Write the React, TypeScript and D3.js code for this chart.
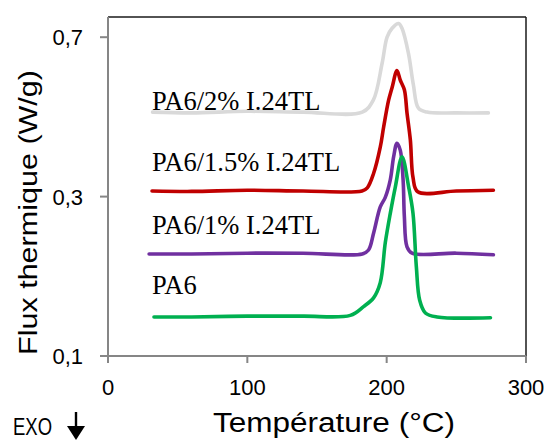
import React from "react";
import * as d3 from "d3";

// ---- data ----
const xTicks = [0, 100, 200, 300];
const yTicks = [0.1, 0.3, 0.7];
const yTickLabels = ["0,1", "0,3", "0,7"];

const seriesNames = ["PA6/2% I.24TL", "PA6/1.5% I.24TL", "PA6/1% I.24TL", "PA6"];
const seriesColors = ["#d9d9d9", "#c00000", "#7030a0", "#00b050"];

const grayT = [32, 60, 100, 140, 182.5, 190.4, 196.7, 200.3, 203.9, 208.6, 211, 215.6, 219.2, 222.8, 229, 250, 273];
const grayV = [0.512, 0.51, 0.514, 0.512, 0.512, 0.542, 0.634, 0.7, 0.722, 0.734, 0.722, 0.66, 0.58, 0.522, 0.512, 0.51, 0.51];

const redT = [31.6, 60, 100, 140, 182.3, 186.1, 190.6, 195.4, 197.8, 201.4, 203.9, 207.4, 209.8, 212.7, 214.6, 217, 218.9, 222.3, 250, 276.6];
const redV = [0.314, 0.313, 0.316, 0.314, 0.314, 0.322, 0.358, 0.424, 0.474, 0.542, 0.574, 0.616, 0.592, 0.568, 0.51, 0.442, 0.348, 0.312, 0.314, 0.316];

const purpleT = [29.5, 60, 100, 140, 182.5, 187, 190.6, 195.4, 199, 202.6, 205, 207.4, 209.8, 211.8, 212.7, 214.6, 218.2, 250, 276.6];
const purpleV = [0.228, 0.228, 0.229, 0.229, 0.228, 0.233, 0.254, 0.287, 0.299, 0.342, 0.4, 0.434, 0.416, 0.342, 0.275, 0.237, 0.229, 0.229, 0.227];

const greenT = [33, 60, 100, 140, 173.9, 183.4, 190.6, 195.4, 199, 202.6, 206.2, 211, 215.8, 218.9, 221.3, 223.7, 227.8, 236.2, 274.5];
const greenV = [0.149, 0.149, 0.15, 0.15, 0.151, 0.162, 0.173, 0.192, 0.242, 0.279, 0.324, 0.4, 0.324, 0.279, 0.212, 0.17, 0.154, 0.149, 0.148];

const seriesT = [grayT, redT, purpleT, greenT];
const seriesV = [grayV, redV, purpleV, greenV];

const labelT = [31.6, 31.6, 31.6, 31.6];
const labelV = [0.517, 0.364, 0.253, 0.178];

// ---- layout ----
const W = 549;
const H = 441;
const left = 108;
const right = 526;
const top = 17;
const bottom = 356;

export default function App() {
  const x = d3.scaleLinear().domain([0, 300]).range([left, right]);
  const y = d3
    .scaleLinear()
    .domain([0.1, 0.3, 0.7, 0.75])
    .range([bottom, bottom - 159.4, bottom - 318.8, top]);

  const line = d3
    .line<[number, number]>()
    .x((d) => x(d[0]))
    .y((d) => y(d[1]))
    .curve(d3.curveCatmullRom.alpha(0.5));

  const axisColor = "#868686";

  return (
    <svg
      width={W}
      height={H}
      style={{ position: "fixed", left: 0, top: 0, background: "#fff" }}
    >
      <rect x={0} y={0} width={W} height={H} fill="#fff" />
      {/* frame top/right */}
      <line x1={left} x2={right} y1={top} y2={top} stroke="#1a1a1a" strokeWidth={1.5} />
      <line x1={right} x2={right} y1={top} y2={bottom} stroke="#1a1a1a" strokeWidth={1.5} />

      {/* series */}
      {seriesT.map((ts, i) => {
        const pts = ts.map((t, j) => [t, seriesV[i][j]] as [number, number]);
        return (
          <path
            key={i}
            d={line(pts) || ""}
            fill="none"
            stroke={seriesColors[i]}
            strokeWidth={3.6}
            strokeLinejoin="round"
            strokeLinecap="round"
          />
        );
      })}

      {/* axes */}
      <line x1={left} x2={left} y1={top} y2={bottom + 7} stroke={axisColor} strokeWidth={2} />
      <line x1={left - 8} x2={right} y1={bottom} y2={bottom} stroke={axisColor} strokeWidth={2} />
      {yTicks.map((v, i) => (
        <g key={"y" + i}>
          <line x1={left - 8} x2={left} y1={y(v)} y2={y(v)} stroke={axisColor} strokeWidth={2} />
          <text
            x={83}
            y={y(v) + 8}
            textAnchor="end"
            fontFamily="Liberation Sans, Arial, sans-serif"
            fontSize={22}
            fill="#000"
          >
            {yTickLabels[i]}
          </text>
        </g>
      ))}
      {xTicks.map((v, i) => (
        <g key={"x" + i}>
          <line x1={x(v)} x2={x(v)} y1={bottom} y2={bottom + 7} stroke={axisColor} strokeWidth={2} />
          <text
            x={x(v)}
            y={395}
            textAnchor="middle"
            fontFamily="Liberation Sans, Arial, sans-serif"
            fontSize={22}
            fill="#000"
          >
            {String(v)}
          </text>
        </g>
      ))}

      {/* series labels */}
      {seriesNames.map((n, i) => (
        <text
          key={"l" + i}
          x={x(labelT[i])}
          y={y(labelV[i])}
          fontFamily="Liberation Serif, Times New Roman, serif"
          fontSize={26.5}
          fill="#000"
        >
          {n}
        </text>
      ))}

      {/* axis titles */}
      <text
        x={334}
        y={432}
        textAnchor="middle"
        fontFamily="Liberation Sans, Arial, sans-serif"
        fontSize={27}
        textLength={242}
        lengthAdjust="spacingAndGlyphs"
        fill="#000"
      >
        Température (°C)
      </text>
      <text
        transform={`translate(37,${212.5}) rotate(-90)`}
        textAnchor="middle"
        fontFamily="Liberation Sans, Arial, sans-serif"
        fontSize={25}
        textLength={285}
        lengthAdjust="spacingAndGlyphs"
        fill="#000"
      >
        Flux thermique (W/g)
      </text>

      {/* EXO arrow */}
      <text
        x={13}
        y={435}
        fontFamily="Liberation Sans, Arial, sans-serif"
        fontSize={23}
        textLength={39}
        lengthAdjust="spacingAndGlyphs"
        fill="#000"
      >
        EXO
      </text>
      <line x1={76} x2={76} y1={412} y2={430} stroke="#000" strokeWidth={2.4} />
      <path d="M67,426 L85,426 L76,440 Z" fill="#000" />
    </svg>
  );
}
